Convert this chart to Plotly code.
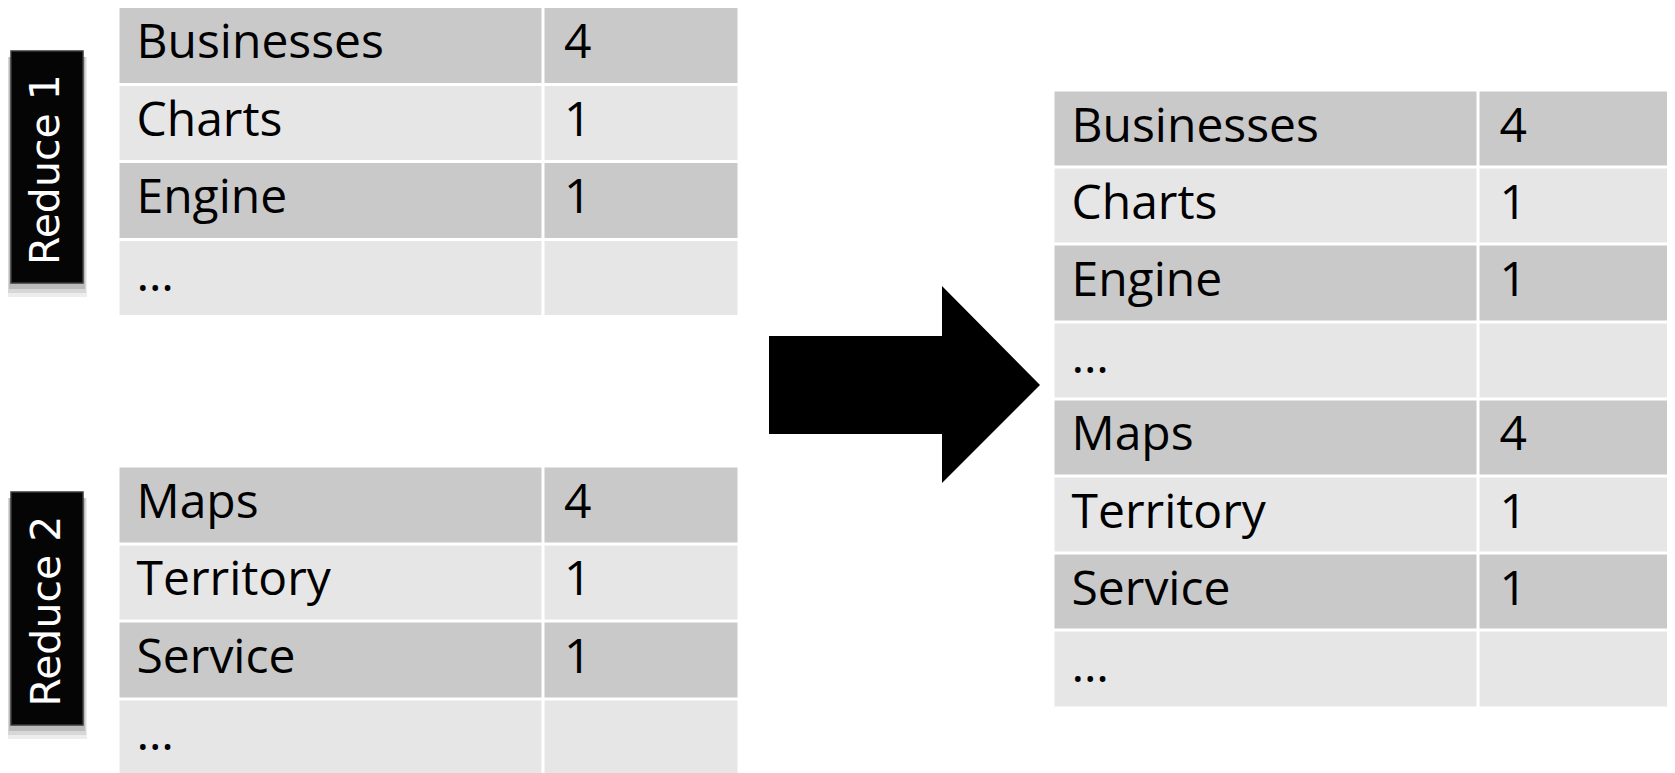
import plotly.graph_objects as go

W, H = 1675, 773
OFF = 8  # default page body margin: data units below are reference-image pixels

# ---- data ----
reduce1_words = ["Businesses", "Charts", "Engine", "…"]
reduce1_counts = ["4", "1", "1", ""]
reduce2_words = ["Maps", "Territory", "Service", "…"]
reduce2_counts = ["4", "1", "1", ""]
merged_words = reduce1_words + reduce2_words
merged_counts = reduce1_counts + reduce2_counts
reducer_labels = ["Reduce 1", "Reduce 2"]

DARK = "#c9c9c9"
LIGHT = "#e6e6e6"
FONT = "Open Sans"
TXT = 48

fig = go.Figure()


def add_table(words, counts, x0, split, x1, y0, row_h):
    n = len(words)
    yedges = [y0 + i * row_h for i in range(n + 1)]
    shade = [[1 - (i % 2), 1 - (i % 2)] for i in range(n)]
    fig.add_trace(go.Heatmap(
        x=[x0, split, x1], y=yedges, z=shade,
        colorscale=[[0, LIGHT], [1, DARK]], zmin=0, zmax=1, showscale=False,
        xgap=3, ygap=3, hoverinfo="skip"))
    ymid = [y0 + i * row_h + 39 for i in range(n)]
    fig.add_trace(go.Scatter(
        x=[x0 + 18] * n, y=ymid, text=words, mode="text",
        textposition="middle right", cliponaxis=False, hoverinfo="skip",
        textfont=dict(family=FONT, size=TXT, color="black")))
    fig.add_trace(go.Scatter(
        x=[split + 21] * n, y=ymid, text=counts, mode="text",
        textposition="middle right", cliponaxis=False, hoverinfo="skip",
        textfont=dict(family=FONT, size=TXT, color="black")))


add_table(reduce1_words, reduce1_counts, 118.5, 543, 739.5, 7, 77.5)
add_table(reduce2_words, reduce2_counts, 118.5, 543, 739.5, 466.5, 77.5)
add_table(merged_words, merged_counts, 1053.5, 1478.5, 1676.5, 90.5, 77.2)

shapes = []
annotations = []
boxes = [(11, 83, 51, 283), (11, 83, 492, 725)]
for (bx0, bx1, by0, by1), label in zip(boxes, reducer_labels):
    # soft shadow
    for k, a in enumerate([0.07, 0.09, 0.13]):
        off = 14 - k * 4
        shapes.append(dict(type="rect", xref="x", yref="y",
                           x0=bx0 - 4 + k, x1=bx1 + 4 - k, y0=by0 + 6, y1=by1 + off,
                           fillcolor=f"rgba(0,0,0,{a})", line=dict(width=0), layer="below"))
    shapes.append(dict(type="rect", xref="x", yref="y",
                       x0=bx0, x1=bx1, y0=by0, y1=by1,
                       fillcolor="#050505", line=dict(color="#3a3a3a", width=1.5)))
    annotations.append(dict(text=label, xref="x", yref="y",
                            x=(bx0 + bx1) / 2 - 2, y=(by0 + by1) / 2 + 3,
                            xanchor="center", yanchor="middle", textangle=-90,
                            showarrow=False,
                            font=dict(family="DejaVu Sans", size=41, color="white")))

# arrow
pts = [(769, 336), (942, 336), (942, 286), (1040, 385), (942, 483), (942, 434), (769, 434)]
path = "M " + " L ".join(f"{x},{y}" for x, y in pts) + " Z"
shapes.append(dict(type="path", xref="x", yref="y", path=path,
                   fillcolor="black", line=dict(width=0)))

fig.update_layout(
    width=W, height=H, margin=dict(l=0, r=0, t=0, b=0),
    paper_bgcolor="white", plot_bgcolor="white",
    xaxis=dict(range=[OFF, OFF + W], visible=False, fixedrange=True),
    yaxis=dict(range=[OFF + H, OFF], visible=False, fixedrange=True),
    shapes=shapes, annotations=annotations, showlegend=False)
fig.write_html("out.html")
